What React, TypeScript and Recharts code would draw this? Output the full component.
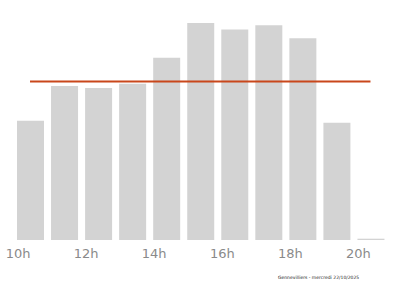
import React from 'react';
import { ComposedChart, Bar, Line, XAxis, YAxis } from 'recharts';

// affluence par heure (relative, 100 = pic)
const hours = ['10h', '11h', '12h', '13h', '14h', '15h', '16h', '17h', '18h', '19h', '20h'];
const affluence = [55, 71, 70, 72, 84, 100, 97, 99, 93, 54, 0.6];
const moyenne = [73, 73, 73, 73, 73, 73, 73, 73, 73, 73, 73];

const data = hours.map((h, i) => ({ hour: h, affluence: affluence[i], moyenne: moyenne[i] }));

const HourTick = (props: any) => {
  const { x, y, payload } = props;
  return (
    <text x={x - 12} y={y + 10} textAnchor="middle" fill="#8a8a8a" fontSize={13} fontFamily="DejaVu Sans">
      {payload.value}
    </text>
  );
};

export default function App() {
  return (
    <div style={{ position: 'absolute', left: 0, top: 0, width: 400, height: 286, background: '#fff' }}>
      <ComposedChart width={400} height={286} data={data} margin={{ top: 23, right: 12.5, bottom: 0, left: 13 }}>
        <XAxis dataKey="hour" axisLine={false} tickLine={false} interval={1} tick={<HourTick />} height={46} />
        <YAxis hide domain={[0, 100]} />
        <Bar dataKey="affluence" fill="#d3d3d3" barSize={27} isAnimationActive={false} />
        <Line dataKey="moyenne" stroke="#c9471b" strokeWidth={2} dot={false} isAnimationActive={false} />
      </ComposedChart>
      <div style={{ position: 'absolute', left: 278, top: 275, fontSize: 4.5, fontFamily: 'DejaVu Sans', color: '#222', whiteSpace: 'nowrap' }}>
        Gennevilliers - mercredi 22/10/2025
      </div>
    </div>
  );
}
